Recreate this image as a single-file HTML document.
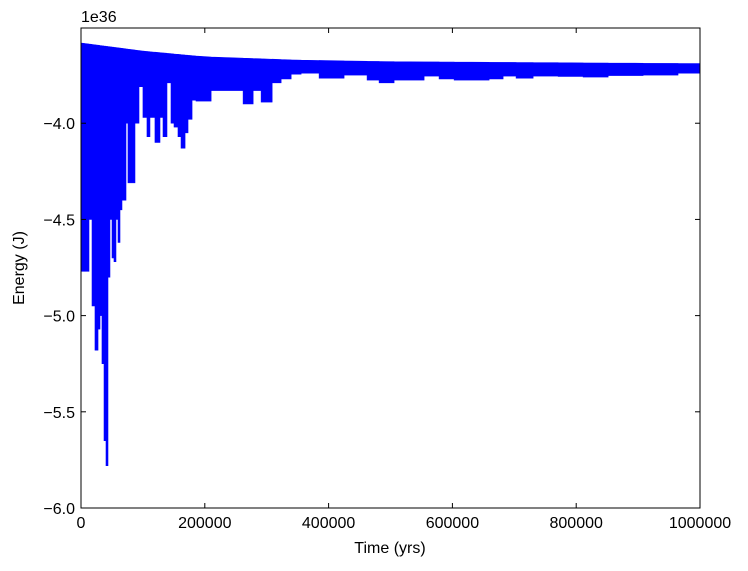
<!DOCTYPE html>
<html><head><meta charset="utf-8"><style>
body{margin:0;background:#fff;}
svg text{font-family:"Liberation Sans","DejaVu Sans",sans-serif;}
</style></head><body>
<svg id="chart" width="748" height="566" viewBox="0 0 748 566" xmlns="http://www.w3.org/2000/svg">
<rect width="748" height="566" fill="#fff"/>
<g id="marks"></g>
<rect x="81" y="28" width="619" height="480" fill="none" stroke="#000" stroke-width="1"/>
<g id="axes"></g>
<text x="81" y="22" font-size="16">1e36</text>
<text x="390" y="553" font-size="16" text-anchor="middle">Time (yrs)</text>
<text transform="translate(24,268) rotate(-90)" font-size="16" text-anchor="middle">Energy (J)</text>
</svg>
<script>
const binStart=[0,6500,12900,17800,22600,27500,30700,33900,37200,40400,43600,46800,50100,53300,56500,59800,63000,66200,72700,75900,87200,93700,100100,106600,111400,119500,127600,132500,138900,145400,150300,156700,161600,168100,172900,179400,185800,210200,261900,278100,291000,308800,323300,339500,355600,384700,425000,462200,481600,505800,554300,578500,602800,659300,681900,702900,730400,770800,811200,851600,908100,964500];
const lowerE=[-4.77,-4.77,-4.5,-4.95,-5.18,-5.07,-5.0,-5.25,-5.65,-5.78,-4.8,-4.5,-4.7,-4.72,-4.5,-4.62,-4.45,-4.4,-4.0,-4.31,-4.0,-3.81,-3.97,-4.07,-3.97,-4.10,-3.97,-4.07,-3.79,-4.0,-4.02,-4.07,-4.13,-4.05,-3.98,-3.88,-3.885,-3.83,-3.90,-3.83,-3.89,-3.79,-3.77,-3.745,-3.74,-3.766,-3.75,-3.776,-3.79,-3.776,-3.755,-3.77,-3.776,-3.77,-3.755,-3.766,-3.755,-3.757,-3.76,-3.752,-3.75,-3.74];
const upperT=[0,100000,200000,350000,500000,1000000];
const upperE=[-3.583,-3.625,-3.655,-3.672,-3.68,-3.69];
const xTicks=[0,200000,400000,600000,800000,1000000];
const xTickLabels=["0","200000","400000","600000","800000","1000000"];
const yTicks=[-4.0,-4.5,-5.0,-5.5,-6.0];
const yTickLabels=["\u22124.0","\u22124.5","\u22125.0","\u22125.5","\u22126.0"];
const X0=81,X1=700,Y0=508,Y1=28,XMAX=1000000,YMIN=-6.0,YMAX=-3.505;
function xs(t){return X0+(t/XMAX)*(X1-X0);}
function ys(v){return Y0-(v-YMIN)/(YMAX-YMIN)*(Y0-Y1);}
function upperAt(t){for(let i=1;i<upperT.length;i++){if(t<=upperT[i]){const f=(t-upperT[i-1])/(upperT[i]-upperT[i-1]);return upperE[i-1]+f*(upperE[i]-upperE[i-1]);}}return upperE[upperE.length-1];}
const NS="http://www.w3.org/2000/svg";
const marks=document.getElementById('marks');
let d="";
for(let i=0;i<binStart.length;i++){
  const t0=binStart[i], t1=i+1<binStart.length?binStart[i+1]:XMAX;
  const xa=xs(t0), xb=xs(t1);
  d+=`M${xa},${ys(upperAt(t0))}L${xb},${ys(upperAt(t1))}L${xb},${ys(lowerE[i])}L${xa},${ys(lowerE[i])}Z`;
}
const p=document.createElementNS(NS,'path');
p.setAttribute('d',d);p.setAttribute('fill','#0000ff');p.setAttribute('stroke','#0000ff');p.setAttribute('stroke-width','0.6');


marks.appendChild(p);
const axes=document.getElementById('axes');
xTicks.forEach((t,i)=>{
  const x=xs(t);
  const g=document.createElementNS(NS,'g');
  
  
  g.innerHTML=`<line x1="${x}" y1="${Y0}" x2="${x}" y2="${Y0-5}" stroke="#000"/><line x1="${x}" y1="${Y1}" x2="${x}" y2="${Y1+5}" stroke="#000"/><text x="${x}" y="${Y0+20}" font-size="16" text-anchor="middle">${xTickLabels[i]}</text>`;
  axes.appendChild(g);
});
yTicks.forEach((v,i)=>{
  const y=ys(v);
  const g=document.createElementNS(NS,'g');
  
  
  g.innerHTML=`<line x1="${X0}" y1="${y}" x2="${X0+5}" y2="${y}" stroke="#000"/><line x1="${X1}" y1="${y}" x2="${X1-5}" y2="${y}" stroke="#000"/><text x="${X0-6}" y="${y+6}" font-size="16" text-anchor="end">${yTickLabels[i]}</text>`;
  axes.appendChild(g);
});
</script>
</body></html>
